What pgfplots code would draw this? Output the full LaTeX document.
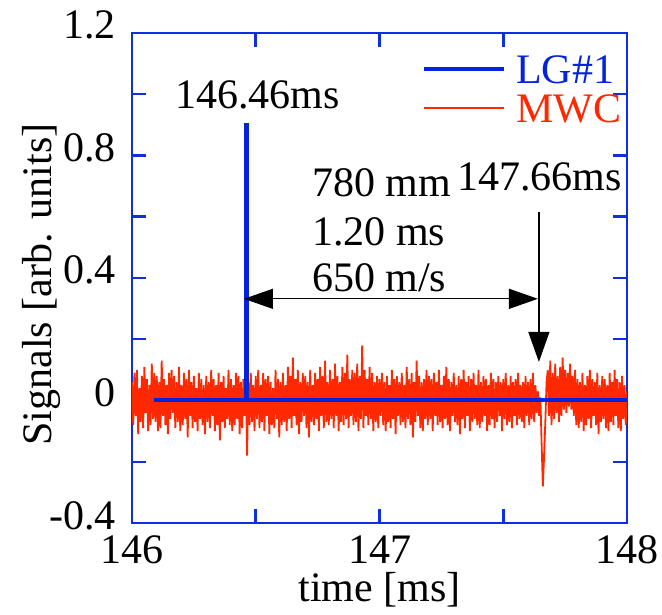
\documentclass[border=0pt]{standalone}
\usepackage{fontspec}
\setmainfont{Liberation Serif}
\newfontfamily\libserif{Liberation Serif}
\usepackage{pgfplots}
\pgfplotsset{compat=1.18}
\usetikzlibrary{arrows.meta}
\definecolor{axblue}{RGB}{15,45,225}
\definecolor{lgblue}{RGB}{5,35,220}
\definecolor{mwcred}{RGB}{255,40,0}
\newcommand{\bigfont}{\libserif\fontsize{42bp}{48bp}\selectfont}
\begin{document}
\begin{tikzpicture}
\begin{axis}[
  name=ax,
  scale only axis,
  width=495bp, height=490bp,
  xmin=146, xmax=148, ymin=-0.4, ymax=1.2,
  axis line style={axblue, line width=2.5bp},
  every tick/.style={axblue, line width=2.5bp},
  major tick length=14bp, minor tick length=14bp,
  tick align=inside,
  xtick={146,146.5,147,147.5,148},
  xticklabels={146,,147,,148},
  ytick={-0.4,-0.2,0,0.2,0.4,0.6,0.8,1.0,1.2},
  yticklabels={-0.4,,0,,0.4,,0.8,,1.2},
  tick label style={font=\bigfont, black, inner sep=0pt},
  xticklabel style={anchor=base, yshift=-40bp},
  yticklabel style={anchor=base east, xshift=-16bp, yshift=-6bp},
  xlabel={time [ms]},
  ylabel={Signals [arb. units]},
  label style={font=\bigfont},
  xlabel style={at={(axis description cs:0.5,0)}, anchor=base, yshift=-78bp},
  ylabel style={at={(axis description cs:-0.1636,0.487)}, anchor=base, rotate=0},
  legend style={font=\bigfont, draw=none, fill=none, inner sep=0pt,
    at={(rel axis cs:0.586,0.955)}, anchor=north west,
    column sep=10bp, row sep=11bp,
    nodes={inner sep=0pt, text height=28bp, text depth=0pt}},
  legend image code/.code={\draw[#1] (0bp,0bp) -- (80bp,0bp);},
  legend cell align=left,
  clip=true,
]
\addplot[lgblue, line width=4bp] coordinates {(146.09,0) (146.46,0) (146.46,0.90) (146.465,0.90) (146.465,0) (148,0)};
\addlegendentry{\textcolor{lgblue}{LG\#1}}
\addplot[mwcred, line width=1.8bp, line join=miter] table[x expr=146+0.005*\coordindex, y=y, row sep=\\] {
y\\
0.06\\ -0.08\\ 0.09\\ -0.05\\ 0.10\\ -0.11\\ 0.04\\ -0.07\\ 0.08\\ -0.09\\ 0.11\\ -0.04\\ 0.07\\ -0.10\\ 0.05\\ -0.08\\ 0.12\\ -0.06\\ 0.09\\ -0.07\\
0.08\\ -0.10\\ 0.06\\ -0.09\\ 0.13\\ -0.05\\ 0.07\\ -0.08\\ 0.05\\ -0.11\\ 0.09\\ -0.06\\ 0.10\\ -0.04\\ 0.08\\ -0.09\\ 0.06\\ -0.07\\ 0.11\\ -0.10\\
0.05\\ -0.08\\ 0.09\\ -0.06\\ 0.07\\ -0.12\\ 0.10\\ -0.05\\ 0.06\\ -0.09\\ 0.08\\ -0.07\\ 0.04\\ -0.10\\ 0.09\\ -0.06\\ 0.07\\ -0.08\\ 0.05\\ -0.11\\
0.08\\ -0.07\\ 0.06\\ -0.09\\ 0.10\\ -0.05\\ 0.07\\ -0.10\\ 0.05\\ -0.08\\ 0.09\\ -0.13\\ 0.06\\ -0.07\\ 0.08\\ -0.09\\ 0.04\\ -0.06\\ 0.10\\ -0.08\\
0.07\\ -0.10\\ 0.05\\ -0.08\\ 0.09\\ -0.06\\ 0.08\\ -0.11\\ 0.06\\ -0.09\\ 0.07\\ -0.05\\ 0.10\\ -0.18\\ 0.06\\ -0.08\\ 0.09\\ -0.07\\ 0.05\\ -0.10\\
0.08\\ -0.06\\ 0.10\\ -0.09\\ 0.05\\ -0.07\\ 0.09\\ -0.10\\ 0.07\\ -0.05\\ 0.08\\ -0.11\\ 0.06\\ -0.08\\ 0.04\\ -0.09\\ 0.10\\ -0.06\\ 0.07\\ -0.12\\
0.06\\ -0.08\\ 0.09\\ -0.07\\ 0.05\\ -0.10\\ 0.11\\ -0.06\\ 0.08\\ -0.09\\ 0.14\\ -0.05\\ 0.07\\ -0.08\\ 0.10\\ -0.11\\ 0.06\\ -0.07\\ 0.09\\ -0.05\\
0.08\\ -0.09\\ 0.06\\ -0.12\\ 0.10\\ -0.07\\ 0.05\\ -0.08\\ 0.09\\ -0.06\\ 0.07\\ -0.10\\ 0.11\\ -0.05\\ 0.08\\ -0.09\\ 0.13\\ -0.07\\ 0.06\\ -0.08\\
0.10\\ -0.06\\ 0.07\\ -0.09\\ 0.12\\ -0.05\\ 0.08\\ -0.10\\ 0.06\\ -0.07\\ 0.11\\ -0.08\\ 0.09\\ -0.06\\ 0.15\\ -0.09\\ 0.07\\ -0.05\\ 0.10\\ -0.08\\
0.09\\ -0.07\\ 0.12\\ -0.10\\ 0.08\\ -0.06\\ 0.18\\ -0.09\\ 0.10\\ -0.05\\ 0.07\\ -0.08\\ 0.11\\ -0.06\\ 0.09\\ -0.10\\ 0.06\\ -0.07\\ 0.08\\ -0.09\\
0.07\\ -0.05\\ 0.09\\ -0.08\\ 0.06\\ -0.10\\ 0.08\\ -0.07\\ 0.05\\ -0.09\\ 0.10\\ -0.06\\ 0.07\\ -0.11\\ 0.08\\ -0.05\\ 0.06\\ -0.08\\ 0.09\\ -0.07\\
0.05\\ -0.09\\ 0.11\\ -0.06\\ 0.07\\ -0.08\\ 0.09\\ -0.12\\ 0.06\\ -0.07\\ 0.13\\ -0.05\\ 0.08\\ -0.09\\ 0.06\\ -0.10\\ 0.07\\ -0.06\\ 0.10\\ -0.08\\
0.08\\ -0.06\\ 0.07\\ -0.10\\ 0.09\\ -0.05\\ 0.06\\ -0.08\\ 0.10\\ -0.07\\ 0.05\\ -0.09\\ 0.08\\ -0.06\\ 0.11\\ -0.08\\ 0.07\\ -0.10\\ 0.06\\ -0.05\\
0.09\\ -0.07\\ 0.05\\ -0.08\\ 0.08\\ -0.11\\ 0.07\\ -0.06\\ 0.10\\ -0.09\\ 0.06\\ -0.05\\ 0.08\\ -0.10\\ 0.07\\ -0.07\\ 0.09\\ -0.06\\ 0.05\\ -0.08\\
0.10\\ -0.09\\ 0.06\\ -0.07\\ 0.08\\ -0.05\\ 0.07\\ -0.10\\ 0.05\\ -0.08\\ 0.09\\ -0.06\\ 0.07\\ -0.09\\ 0.06\\ -0.07\\ 0.08\\ -0.05\\ 0.06\\ -0.10\\
0.07\\ -0.06\\ 0.09\\ -0.08\\ 0.05\\ -0.07\\ 0.08\\ -0.09\\ 0.06\\ -0.05\\ 0.07\\ -0.08\\ 0.09\\ -0.06\\ 0.05\\ -0.07\\ 0.06\\ -0.09\\ 0.08\\ -0.05\\
0.06\\ -0.08\\ 0.07\\ -0.06\\ 0.09\\ -0.07\\ 0.05\\ -0.04\\ 0.03\\ -0.05\\ 0.01\\ -0.14\\ -0.28\\ -0.18\\ -0.07\\ 0.06\\ 0.10\\ -0.05\\ 0.13\\ -0.08\\
0.09\\ -0.06\\ 0.12\\ -0.04\\ 0.08\\ -0.07\\ 0.11\\ -0.05\\ 0.14\\ -0.03\\ 0.10\\ -0.04\\ 0.09\\ -0.02\\ 0.12\\ -0.03\\ 0.08\\ -0.05\\ 0.10\\ -0.08\\
0.07\\ -0.09\\ 0.06\\ -0.07\\ 0.09\\ -0.10\\ 0.05\\ -0.08\\ 0.08\\ -0.06\\ 0.10\\ -0.09\\ 0.07\\ -0.05\\ 0.06\\ -0.08\\ 0.09\\ -0.11\\ 0.05\\ -0.07\\
0.08\\ -0.06\\ 0.07\\ -0.09\\ 0.05\\ -0.10\\ 0.09\\ -0.07\\ 0.06\\ -0.08\\ 0.10\\ -0.05\\ 0.07\\ -0.09\\ 0.06\\ -0.10\\ 0.08\\ -0.06\\ 0.05\\ -0.08\\
0.03\\
};
\addlegendentry{\textcolor{mwcred}{MWC}}
\addplot[lgblue, line width=4bp, forget plot] coordinates {(146.09,0) (146.46,0) (146.46,0.90) (146.465,0.90) (146.465,0) (148,0)};
\node[font=\bigfont, anchor=base west, inner sep=0pt] at (axis cs:146.174,0.953) {146.46ms};
\node[font=\bigfont, anchor=base west, inner sep=0pt] at (axis cs:146.727,0.665) {780 mm};
\node[font=\bigfont, anchor=base west, inner sep=0pt] at (axis cs:146.727,0.505) {1.20 ms};
\node[font=\bigfont, anchor=base west, inner sep=0pt] at (axis cs:146.727,0.355) {650 m/s};
\node[font=\bigfont, anchor=base east, inner sep=0pt] at (axis cs:147.980,0.685) {147.66ms};
\draw[black, line width=1.3bp, {Triangle[length=29bp,width=20bp]}-{Triangle[length=29bp,width=20bp]}] (axis cs:146.4525,0.332) -- (axis cs:147.640,0.332);
\draw[black, line width=1.3bp, -{Triangle[length=30bp,width=21bp]}] (axis cs:147.644,0.616) -- (axis cs:147.644,0.126);
\end{axis}
\pgfresetboundingbox
\path[use as bounding box] ([shift={(-132bp,-92bp)}]ax.south west) rectangle ++(662bp,615bp);
\end{tikzpicture}
\end{document}
